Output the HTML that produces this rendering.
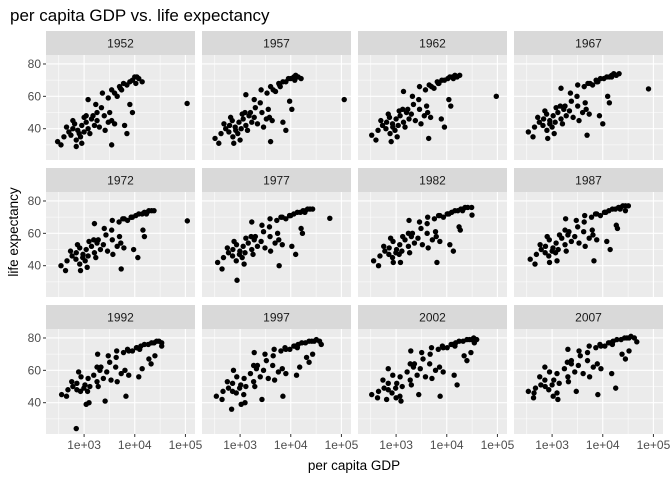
<!DOCTYPE html>
<html><head><meta charset="utf-8"><style>
body{margin:0;background:#fff;}
svg{display:block;font-family:"Liberation Sans",sans-serif;}
</style></head><body>
<svg id="chart" width="672" height="480" viewBox="0 0 672 480" xmlns="http://www.w3.org/2000/svg">
<text x="10" y="21" font-size="17" fill="#000">per capita GDP vs. life expectancy</text>
<text x="354" y="470" font-size="13.5" fill="#000" text-anchor="middle">per capita GDP</text>
<text x="0" y="0" font-size="13.5" fill="#000" text-anchor="middle" transform="translate(18,232) rotate(-90)">life expectancy</text>
<g id="panels"></g>
</svg>
<script>
const years = [1952,1957,1962,1967,1972,1977,1982,1987,1992,1997,2002,2007];
const xTicks = [1000,10000,100000];
const xTickLabels = ["1e+03","1e+04","1e+05"];
const yTicks = [40,60,80];
const yTickLabels = ["40","60","80"];
const gdp1952 = [300,400,500,600,700,800,900,1000,350,450,550,650,750,850,1100,1200,1400,1600,1800,2000,2500,3000,3500,4000,1300,700,900,1500,1800,2200,1700,1200,1100,2300,3000,3500,4500,5000,6000,7000,8000,9000,10000,11000,12000,14000,4000,5500,3500,6300,7000,8000,9000,108000,600,1000,2600,3200,5200,10500];
const life1952 = [32,35,38,40,33,37,42,38,30,41,36,43,39,35,44,40,46,42,45,41,48,44,45,43,37,29,31,48,50,53,55,58,48,62,59,64,60,66,68,67,69,70,72,72,71,69,62,64,30,42,37,55,50,55.6,45,47,39,50,65,68];
const gdp1957 = [320,420,520,620,720,820,950,1050,380,480,600,700,800,900,1150,1300,1500,1700,1900,2200,2700,3300,3800,4300,1400,750,1000,1600,2000,2500,1900,1300,1250,2600,3400,4000,5000,5800,7000,8000,9000,10000,11500,12500,14000,16000,4500,6200,4000,7000,8000,9500,10500,113523,650,1100,2900,3600,6000,12000];
const life1957 = [34,37,40,42,35,39,44,40,31,43,38,45,41,37,46,42,48,44,47,43,50,46,47,45,39,31,33,50,53,56,58,61,50,64,62,66,63,68,69,69,71,71,72,73,72,71,64,66,32,44,39,57,52,58,47,49,41,52,67,70];
const gdp1962 = [330,440,540,650,760,860,1000,1100,400,500,630,740,850,950,1200,1400,1600,1800,2000,2400,2900,3600,4200,4800,1500,800,1050,1700,2200,2800,2100,1400,1350,2900,3800,4500,5600,6500,8000,9000,10500,11500,13000,14500,16000,18000,5000,7000,4400,7800,9000,11000,12000,95000,700,1150,3100,4000,6800,13500];
const life1962 = [36,39,42,44,37,41,46,42,33,45,40,47,43,39,48,44,50,46,49,45,52,48,50,47,41,32,35,52,55,58,60,63,52,66,64,67,65,69,70,70,71,72,72,73,72,73,66,68,34,46,41,58,54,60,49,51,43,54,68,71];
const gdp1967 = [340,450,560,680,790,900,1050,1150,420,520,660,780,900,1000,1300,1500,1700,1900,2200,2600,3200,4000,4700,5400,1600,820,1100,1800,2400,3100,2300,1500,1450,3200,4300,5100,6300,7400,9000,10500,12000,13500,15000,16500,18500,21000,5600,8000,4900,8600,10000,12500,13500,80000,720,1200,3400,4500,7600,15000];
const life1967 = [38,41,44,46,39,43,48,44,35,47,42,49,45,41,50,46,52,48,51,47,54,50,52,49,43,34,37,54,57,60,62,65,54,67,66,68,67,70,71,71,72,72,73,74,73,74,68,69,36,48,43,60,56,64.6,51,53,45,56,69,72];
const gdp1972 = [350,460,580,700,820,940,1100,1200,430,540,690,820,950,1050,1400,1600,1800,2100,2400,2900,3600,4500,5300,6100,1700,850,1150,1900,2700,3500,2500,1600,1550,3600,4900,5800,7200,8500,10500,12000,14000,15500,17500,19000,21500,24000,6200,9000,5400,9500,11500,14500,15500,109000,740,1250,3700,5000,8500,17000];
const life1972 = [40,43,46,48,41,45,50,46,37,49,44,51,47,43,52,48,54,50,53,49,56,52,54,51,45,37,39,56,59,62,63,66,56,68,67,69,68,70,71,72,72,73,73,74,74,74,69,70,38,50,45,62,58,67.7,53,55,47,58,70,72];
const gdp1977 = [360,470,590,720,840,970,1150,1250,440,560,710,850,990,1100,1450,1700,1900,2200,2600,3100,3900,4900,5800,6800,1800,870,1200,2000,2900,3800,2700,1700,1650,3900,5300,6400,8000,9500,11500,13500,15500,17500,19500,21500,24000,27000,6800,10000,5900,10500,12500,16000,17000,59000,760,1300,4000,5500,9500,19000];
const life1977 = [42,45,48,50,43,47,52,48,38,51,46,53,49,45,54,50,56,52,55,51,58,54,56,53,47,31,41,58,61,64,65,67,58,69,68,70,69,71,72,73,73,74,74,75,75,75,70,71,40,52,47,63,60,69.3,55,57,49,60,71,73];
const gdp1982 = [360,480,600,730,850,990,1180,1300,450,570,720,870,1020,1150,1500,1750,2000,2300,2700,3300,4100,5200,6200,7300,1850,880,1220,2100,3100,4100,2900,1800,1750,4200,5700,6900,8600,10200,12500,14500,16500,19000,21000,23000,26000,31000,7300,11000,6400,11500,13500,17500,18500,31500,780,1350,4300,6000,10500,20500];
const life1982 = [43,46,49,51,45,48,53,49,40,52,47,55,50,47,56,52,58,54,57,53,60,56,58,55,48,42,42,60,63,66,67,68,60,70,69,71,70,72,73,74,74,75,75,76,76,76,71,72,42,53,49,64,62,71.3,57,58,51,61,72,74];
const gdp1987 = [370,490,610,740,860,1000,1200,1320,460,580,730,880,1040,1170,1550,1800,2050,2400,2800,3400,4200,5400,6400,7600,1900,890,1250,2150,3200,4300,3000,1850,1800,4400,6000,7200,9000,10800,13200,15500,17800,20500,22500,25000,28000,32000,7600,11500,6700,12000,14000,18500,19500,28000,800,1400,4500,6200,11000,22000];
const life1987 = [44,47,50,52,46,49,54,50,41,53,48,56,51,48,57,53,59,55,58,54,61,57,59,56,49,42,43,61,64,67,68,69,62,71,70,72,71,73,74,75,75,76,76,77,77,77,72,73,43,55,50,65,63,74,58,59,52,62,73,75];
const gdp1992 = [360,480,600,720,850,990,1200,1300,450,570,720,870,1040,1170,1550,1800,2050,2400,2800,3400,4200,5400,6400,7600,1900,700,1250,2150,3200,4300,3000,1850,1800,4400,6000,7200,9000,10800,13200,15500,18500,21500,24000,27000,30000,34000,7600,12500,6700,12000,14000,19000,21000,34000,780,1100,4500,2600,11000,25000];
const life1992 = [45,48,50,52,47,49,55,50,44,53,48,56,51,47,57,53,60,55,59,54,62,58,60,57,50,24,40,62,65,68,69,70,62,72,71,73,72,74,75,76,76,77,77,78,78,77,72,73,44,56,61,67,64,75,59,39,53,41,74,69];
const gdp1997 = [340,460,590,710,840,980,1200,1300,440,560,710,860,1030,1180,1600,1850,2100,2500,2900,3600,4400,5700,6800,8000,1950,680,1250,2200,3300,4500,3100,1900,1850,4700,6400,7700,9600,11500,14000,16500,19500,23000,26000,29000,32000,37000,8000,13500,7000,13000,15000,20500,23000,40000,740,1050,4800,2700,12000,27000];
const life1997 = [44,47,49,52,46,49,55,50,42,53,47,56,51,45,58,53,61,56,60,55,63,59,61,58,50,36,40,63,66,69,70,71,63,73,72,74,73,75,76,77,77,78,78,78,79,78,73,74,44,57,62,68,65,76,60,39,54,42,75,70];
const gdp2002 = [330,450,580,700,830,980,1200,1320,430,550,700,860,1030,1190,1650,1900,2200,2600,3000,3800,4600,6000,7200,8500,2000,650,1250,2300,3400,4700,3200,1950,1900,5000,6800,8200,10200,12200,15000,17500,21000,25000,28000,31000,34000,39000,8500,14500,7400,14000,16000,22000,25000,35000,700,1000,5100,2800,13000,30000];
const life2002 = [45,47,49,52,46,49,56,50,43,54,48,57,52,44,59,54,62,57,61,56,64,60,62,59,51,42,41,64,67,70,71,72,64,74,73,75,74,76,77,78,78,79,79,79,80,79,74,75,44,57,51,69,66,77,61,43,55,45,76,71];
const gdp2007 = [340,470,600,720,860,1000,1250,1380,440,570,730,890,1080,1250,1750,2050,2400,2800,3300,4100,5000,6500,7800,9200,2100,430,1300,2400,3600,5000,3400,2050,2000,5400,7300,8800,11000,13000,16000,19000,23000,27000,30000,33000,36000,42000,9200,15500,8000,15000,18000,24000,28000,47000,720,1050,5500,3000,14000,33000];
const life2007 = [47,49,51,54,48,51,58,52,46,56,50,59,54,46,61,56,64,59,63,58,66,62,64,61,53,43,42,66,69,71,72,73,65,75,74,76,75,77,78,79,79,80,80,80,81,80,75,76,45,58,49,70,67,77.6,62,44,56,47,77,72];
const gdpByYear = [gdp1952,gdp1957,gdp1962,gdp1967,gdp1972,gdp1977,gdp1982,gdp1987,gdp1992,gdp1997,gdp2002,gdp2007];
const lifeByYear = [life1952,life1957,life1962,life1967,life1972,life1977,life1982,life1987,life1992,life1997,life2002,life2007];

const NS = "http://www.w3.org/2000/svg";
const PW = 149, PH = 105, STRIP = 24;
const colX = c => 46 + c * 156;
const rowY = r => 31 + r * 137;
const LX0 = 2.248, LX1 = 5.189, Y0 = 20.65, Y1 = 85.55;
const xScale = (v, c) => colX(c) + (Math.log10(v) - LX0) / (LX1 - LX0) * PW;
const yScale = (v, r) => rowY(r) + STRIP + PH - (v - Y0) / (Y1 - Y0) * PH;
const root = document.getElementById("panels");
function mk(tag, attrs, parent) {
  const e = document.createElementNS(NS, tag);
  for (const k in attrs) e.setAttribute(k, attrs[k]);
  (parent || root).appendChild(e);
  return e;
}
years.forEach((yr, i) => {
  const c = i % 4, r = Math.floor(i / 4);
  const x0 = colX(c), y0 = rowY(r), py = y0 + STRIP;
  const g = mk("g", {});
  
  
  const strip = mk("rect", {x: x0, y: y0, width: PW, height: STRIP, fill: "#D9D9D9"}, g);
  
  
  const st = mk("text", {x: x0 + PW / 2, y: y0 + 16.5, "font-size": 12, fill: "#1A1A1A", "text-anchor": "middle"}, g);
  st.textContent = yr;
  
  
  const bg = mk("rect", {x: x0, y: py, width: PW, height: PH, fill: "#EBEBEB"}, g);
  
  
  [316.2, 3162, 31623].forEach(v => {
    const X = xScale(v, c);
    const l = mk("line", {x1: X, x2: X, y1: py, y2: py + PH, stroke: "#fff", "stroke-width": 0.55}, g);
    
    
  });
  [30, 50, 70].forEach(v => {
    const Y = yScale(v, r);
    const l = mk("line", {x1: x0, x2: x0 + PW, y1: Y, y2: Y, stroke: "#fff", "stroke-width": 0.55}, g);
    
    
  });
  xTicks.forEach((v, k) => {
    const X = xScale(v, c);
    const l = mk("line", {x1: X, x2: X, y1: py, y2: py + PH, stroke: "#fff", "stroke-width": 1.1}, g);
    
    
    if (r === 2) {
      const t = mk("line", {x1: X, x2: X, y1: py + PH, y2: py + PH + 3, stroke: "#333", "stroke-width": 1}, g);
      
      
      const tl = mk("text", {x: X, y: py + PH + 15, "font-size": 12, fill: "#4D4D4D", "text-anchor": "middle"}, g);
      tl.textContent = xTickLabels[k];
      
      
    }
  });
  yTicks.forEach((v, k) => {
    const Y = yScale(v, r);
    const l = mk("line", {x1: x0, x2: x0 + PW, y1: Y, y2: Y, stroke: "#fff", "stroke-width": 1.1}, g);
    
    
    if (c === 0) {
      const t = mk("line", {x1: x0 - 3, x2: x0, y1: Y, y2: Y, stroke: "#333", "stroke-width": 1}, g);
      
      
      const tl = mk("text", {x: x0 - 5, y: Y + 4, "font-size": 12, fill: "#4D4D4D", "text-anchor": "end"}, g);
      tl.textContent = yTickLabels[k];
      
      
    }
  });
  const gd = gdpByYear[i], lf = lifeByYear[i];
  gd.forEach((v, j) => {
    const p = mk("circle", {cx: xScale(v, c), cy: yScale(lf[j], r), r: 2.7, fill: "#000"}, g);
    
    
  });
});
</script>
</body></html>
